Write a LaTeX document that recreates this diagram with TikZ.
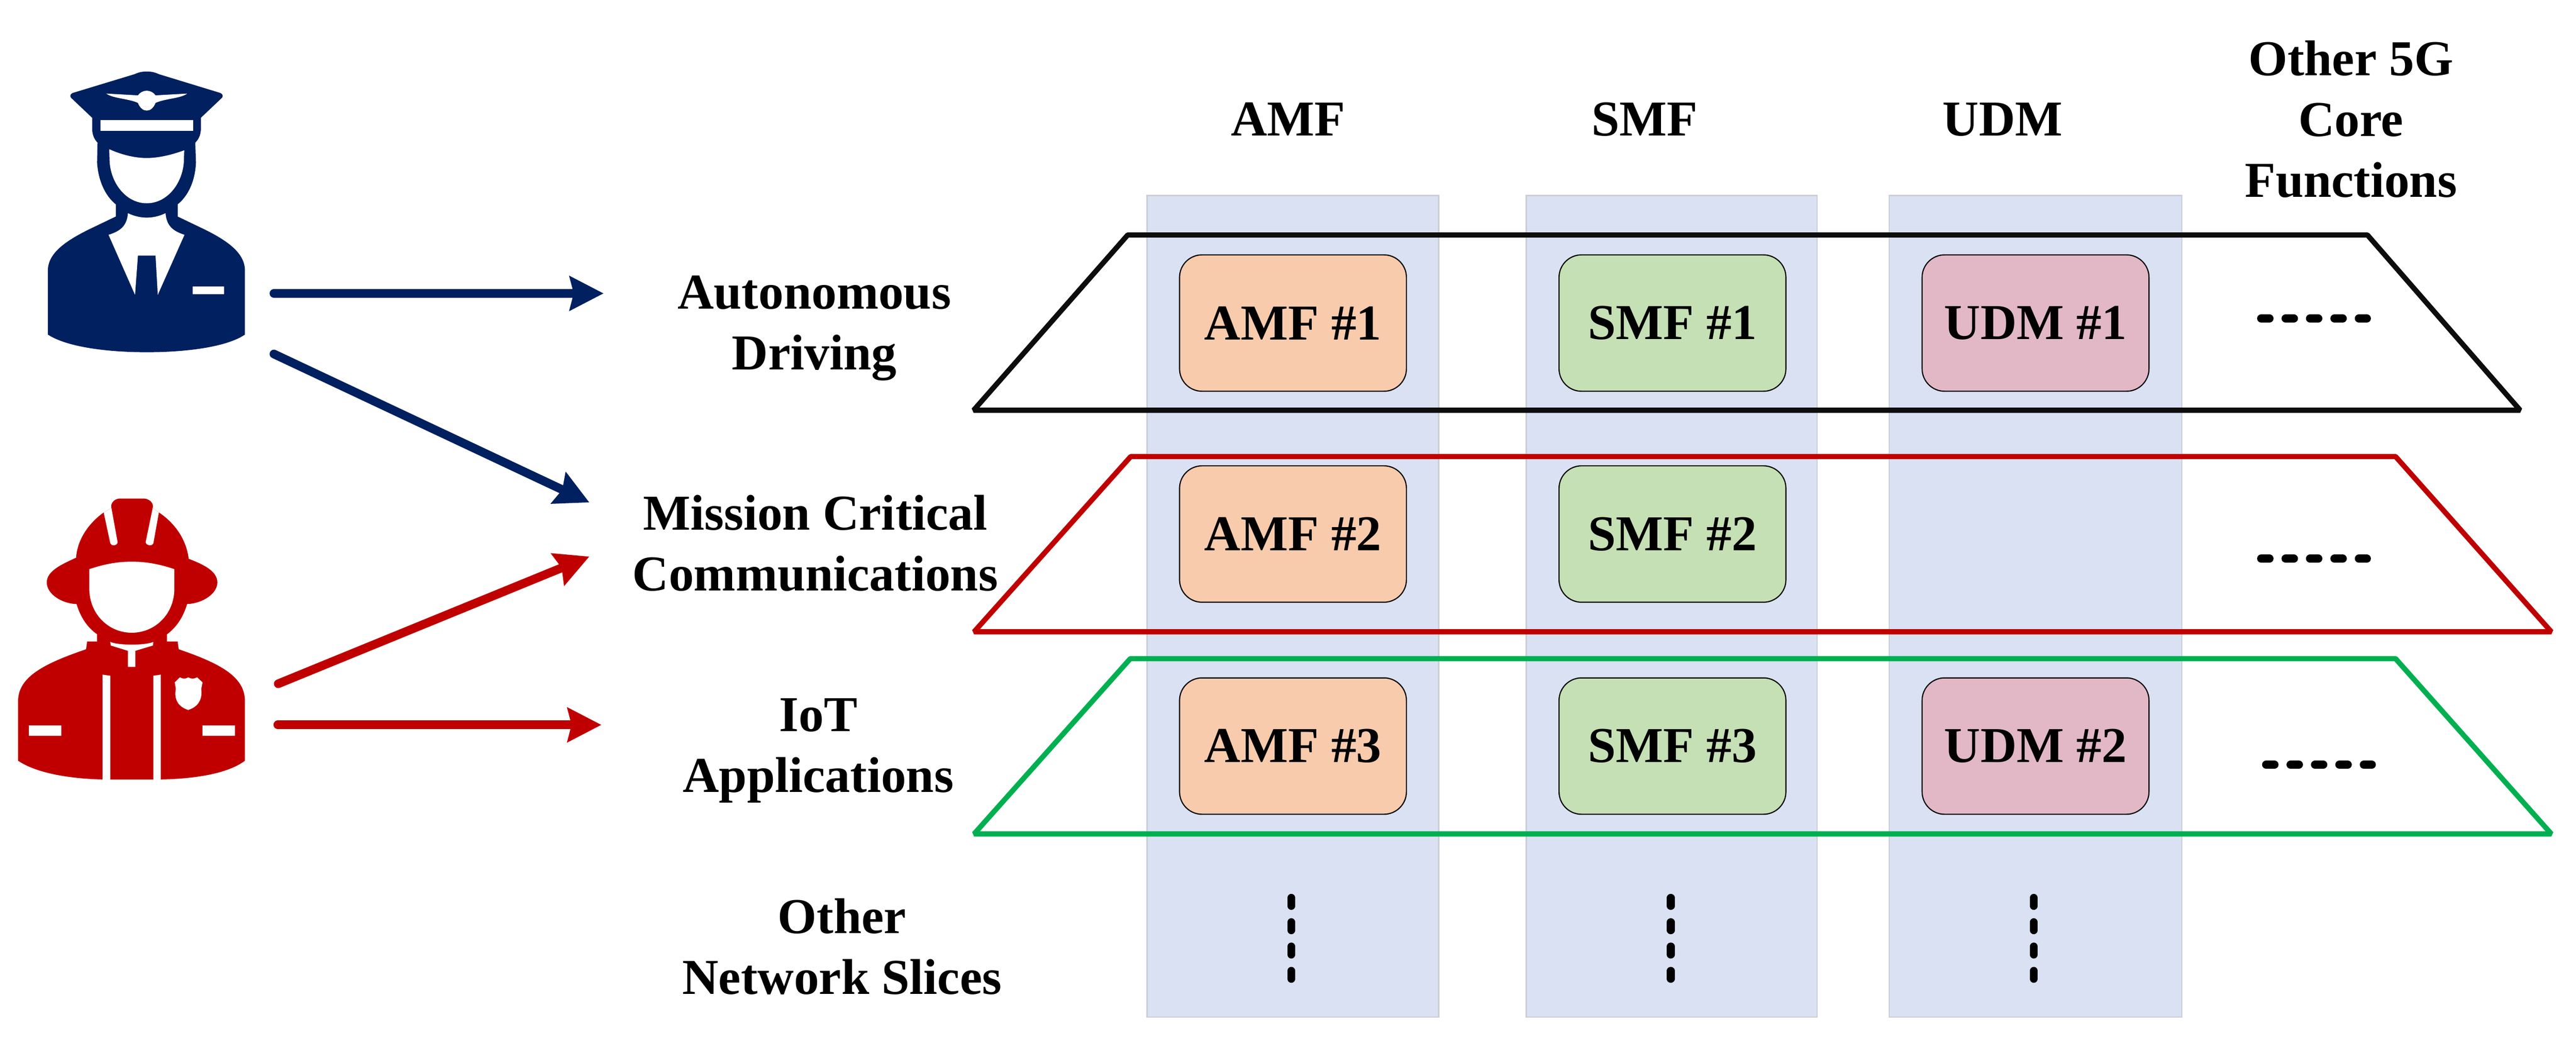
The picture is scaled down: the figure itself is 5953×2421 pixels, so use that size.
\documentclass[tikz,border=0pt]{standalone}
\usepackage{fontspec}
\setmainfont{Liberation Serif}
\usetikzlibrary{arrows.meta}
\definecolor{navy}{HTML}{002060}
\definecolor{fire}{HTML}{C00000}
\definecolor{slicegreen}{HTML}{00B050}
\definecolor{sliceblack}{HTML}{0D0D0D}
\definecolor{colfill}{HTML}{DAE1F3}
\definecolor{coledge}{HTML}{C9CED6}
\definecolor{amffill}{HTML}{F8CBAD}
\definecolor{smffill}{HTML}{C5E0B4}
\definecolor{udmfill}{HTML}{E2B8C6}
\tikzset{
  every node/.style={inner sep=0pt,outer sep=0pt},
  label text/.style={font=\fontsize{33}{39.85}\selectfont\bfseries,align=center,text=black},
  column band/.style={draw=coledge,line width=0.03cm,fill=colfill},
  nf box/.style={draw=black,line width=0.026cm,rounded corners=0.52cm,minimum width=5.24cm,minimum height=3.15cm,label text},
  slice/.style={line width=0.12cm,line join=bevel},
  flow/.style={line width=0.2cm,line cap=round,-{Stealth[length=0.78cm,width=0.78cm,inset=0.09cm]}},
  hdots/.style={line width=0.19cm,line cap=round,black,dash pattern=on 0.19cm off 0.374cm},
  vdots/.style={line width=0.18cm,line cap=round,black,dash pattern=on 0.19cm off 0.372cm},
}
\begin{document}
\begin{tikzpicture}[x=0.01cm,y=-0.01cm]
\useasboundingbox (0,0) rectangle (5953,2421);
% column bands
\draw[column band] (2651,452) rectangle (3325,2350);
\draw[column band] (3527,452) rectangle (4199,2350);
\draw[column band] (4366,452) rectangle (5042,2350);
% slices
\draw[slice,sliceblack] (2606,543) -- (5471,543) -- (5824,948) -- (2250,948) -- cycle;
\draw[slice,fire] (2613,1055) -- (5536,1055) -- (5896,1460) -- (2251,1460) -- cycle;
\draw[slice,slicegreen] (2612,1522) -- (5536,1522) -- (5896,1927) -- (2251,1927) -- cycle;
% network function boxes
\node[nf box,fill=amffill] (amf1) at (2988,746.5) {AMF \#1};
\node[nf box,fill=amffill] (amf2) at (2988,1234) {AMF \#2};
\node[nf box,fill=amffill] (amf3) at (2988,1724) {AMF \#3};
\node[nf box,fill=smffill] (smf1) at (3865,746.5) {SMF \#1};
\node[nf box,fill=smffill] (smf2) at (3865,1234) {SMF \#2};
\node[nf box,fill=smffill] (smf3) at (3865,1724) {SMF \#3};
\node[nf box,fill=udmfill] (udm1) at (4704,746.5) {UDM \#1};
\node[nf box,fill=udmfill] (udm2) at (4704,1724) {UDM \#2};
% headers
\node[label text,anchor=base] (hamf) at (2977,314) {AMF};
\node[label text,anchor=base] (hsmf) at (3801,314) {SMF};
\node[label text,anchor=base] (hudm) at (4628,314) {UDM};
\node[label text,anchor=base] (hother) at (5433,455) {Other 5G\\Core\\Functions};
% slice labels
\node[label text,anchor=base] (lauto) at (1882,854) {Autonomous\\Driving};
\node[label text,anchor=base] (lmission) at (1884,1365) {Mission Critical\\Communications};
\node[label text,anchor=base] (liot) at (1891,1830) {IoT\\Applications};
\node[label text,anchor=base] (lother) at (1946,2297) {Other\\Network Slices};
% ellipses
\draw[hdots] (5225.5,736) -- (5469.5,736);
\draw[hdots] (5225.5,1291) -- (5469.5,1291);
\draw[hdots] (5237,1767) -- (5481,1767);
\draw[vdots] (2984,2074.5) -- (2984,2262);
\draw[vdots] (3861,2074.5) -- (3861,2262);
\draw[vdots] (4700,2074.5) -- (4700,2262);
% arrow end points
\coordinate (pilotA) at (633,678);
\coordinate (pilotB) at (633,818);
\coordinate (fireA) at (643,1580);
\coordinate (fireB) at (642,1675);
\coordinate (toAuto) at (1395,678);
\coordinate (toMissionA) at (1362,1161);
\coordinate (toMissionB) at (1362,1286);
\coordinate (toIot) at (1390,1675);
\draw[flow,navy] (pilotA) -- (toAuto);
\draw[flow,navy] (pilotB) -- (toMissionA);
\draw[flow,fire] (fireA) -- (toMissionB);
\draw[flow,fire] (fireB) -- (toIot);
% pilot icon
\begin{scope}[shift={(0,100)},x=0.0051020cm,y=-0.0051020cm]
\fill[navy] (665,128) .. controls (640,128) and (625,133) .. (610,140) -- (330,225)
  .. controls (318,230) and (316,240) .. (322,247) -- (418,338) -- (418,395)
  .. controls (420,420) and (430,438) .. (442,450) -- (440,540)
  .. controls (445,620) and (475,690) .. (525,730) -- (525,785) -- (400,845)
  .. controls (300,895) and (217,950) .. (217,1030) -- (217,1320)
  .. controls (300,1375) and (480,1400) .. (665,1400)
  .. controls (850,1400) and (1030,1375) .. (1110,1320) -- (1110,1030)
  .. controls (1110,950) and (1030,895) .. (930,845) -- (805,785) -- (805,730)
  .. controls (855,690) and (885,620) .. (888,540) -- (885,450)
  .. controls (898,438) and (908,420) .. (910,395) -- (910,338) -- (1006,247)
  .. controls (1012,240) and (1010,230) .. (998,225) -- (720,140)
  .. controls (705,133) and (690,128) .. (665,128) -- cycle;
\fill[white] (495,480) .. controls (550,505) and (610,520) .. (665,520)
  .. controls (720,520) and (780,505) .. (835,485) -- (833,540)
  .. controls (825,640) and (755,725) .. (665,725)
  .. controls (575,725) and (505,640) .. (497,540) -- cycle;
\fill[white] (455,348) rectangle (875,397);
\fill[white] (482,228) -- (625,236) .. controls (635,222) and (650,215) .. (665,215)
  .. controls (680,215) and (695,222) .. (705,236) -- (848,228)
  .. controls (820,250) and (750,250) .. (705,270)
  .. controls (695,295) and (680,305) .. (665,305)
  .. controls (650,305) and (635,295) .. (625,270)
  .. controls (580,250) and (510,250) .. (482,228) -- cycle;
\fill[white] (580,770) .. controls (610,785) and (640,790) .. (665,790)
  .. controls (690,790) and (720,785) .. (750,770)
  .. controls (755,825) and (780,850) .. (836,868) -- (715,1140) -- (705,962) -- (625,962) -- (612,1140) -- (492,868)
  .. controls (550,850) and (575,825) .. (580,770) -- cycle;
\fill[white] (873,1103) rectangle (1016,1136);
\end{scope}
% firefighter icon
\begin{scope}[shift={(0,1100)},x=0.0051020cm,y=-0.0051020cm]
\fill[fire] (540,102) .. controls (515,105) and (500,125) .. (505,145) -- (470,165)
  .. controls (400,215) and (350,290) .. (345,370)
  .. controls (280,400) and (212,430) .. (212,482)
  .. controls (212,535) and (280,578) .. (347,580)
  .. controls (365,640) and (395,685) .. (440,717) -- (440,750) -- (395,750) -- (390,785)
  .. controls (200,850) and (82,910) .. (82,1020) -- (82,1290)
  .. controls (170,1350) and (330,1372) .. (465,1375) -- (728,1375)
  .. controls (880,1372) and (1030,1350) .. (1110,1290) -- (1110,1020)
  .. controls (1110,910) and (1000,850) .. (810,785) -- (805,750) -- (757,750) -- (757,717)
  .. controls (800,685) and (830,640) .. (848,580)
  .. controls (915,578) and (985,535) .. (985,482)
  .. controls (985,430) and (920,400) .. (855,375)
  .. controls (845,290) and (795,215) .. (720,165) -- (692,145)
  .. controls (698,125) and (680,105) .. (655,102) -- cycle;
\fill[white] (470,165) -- (505,145) -- (533,300) .. controls (530,318) and (505,318) .. (500,305) -- cycle;
\fill[white] (720,165) -- (692,145) -- (660,300) .. controls (665,318) and (690,318) .. (695,305) -- cycle;
\fill[white] (405,422) .. controls (470,400) and (530,388) .. (597,388)
  .. controls (665,388) and (725,400) .. (790,422) -- (790,520)
  .. controls (785,630) and (700,710) .. (597,710)
  .. controls (495,710) and (410,630) .. (405,520) -- cycle;
\fill[white] (500,752) .. controls (540,768) and (655,768) .. (695,752) -- (693,768) -- (613,792) -- (613,865) -- (580,865) -- (580,792) -- (502,768) -- cycle;
\fill[white] (465,900) -- (500,905) -- (500,1380) -- (465,1380) -- cycle;
\fill[white] (695,905) -- (728,900) -- (728,1380) -- (695,1380) -- cycle;
\fill[white] (130,1130) rectangle (277,1178);
\fill[white] (918,1130) rectangle (1065,1178);
\fill[white] (815,912) .. controls (830,920) and (840,920) .. (853,912)
  .. controls (866,920) and (880,920) .. (893,912) -- (918,935) -- (912,965)
  .. controls (918,1010) and (900,1045) .. (853,1060)
  .. controls (806,1045) and (788,1010) .. (797,965) -- (792,935) -- cycle;
\end{scope}
\end{tikzpicture}
\end{document}
